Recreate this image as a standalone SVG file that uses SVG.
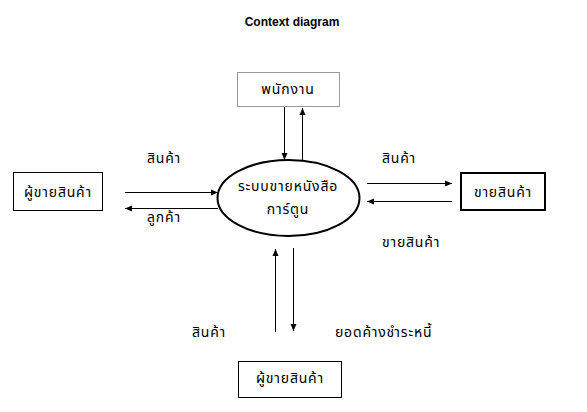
<svg xmlns="http://www.w3.org/2000/svg" width="587" height="412" viewBox="0 0 587 412">
<defs>
<style>
.t{font-family:"Noto Sans Thai","Noto Sans","DejaVu Sans",sans-serif;font-size:14px;letter-spacing:0.8px;fill:#000;text-anchor:middle}
.s{text-anchor:start}
.ttl{font-family:"Liberation Sans",Arial,sans-serif;font-size:12px;font-weight:bold;text-anchor:middle}
.ln{stroke:#000;stroke-width:1;fill:none;marker-end:url(#ah)}
</style>
<marker id="ah" viewBox="0 0 8 8" refX="7" refY="4" markerWidth="8" markerHeight="8" markerUnits="userSpaceOnUse" orient="auto">
<path d="M0,1 L7,4 L0,7 Z" fill="#000"/>
</marker>
</defs>
<rect width="587" height="412" fill="#fff"/>
<text class="ttl" x="292" y="26">Context diagram</text>
<g id="employee">
<rect x="237.5" y="72.5" width="102" height="34" fill="#fff" stroke="#999"/>
<text class="t" x="288" y="94">พนักงาน</text>
</g>
<g id="system">
<ellipse cx="288.5" cy="198" rx="71" ry="38" fill="#fff" stroke="#000" stroke-width="2"/>
<text class="t" x="288" y="191">ระบบขายหนังสือ</text>
<text class="t" x="288" y="214">การ์ตูน</text>
</g>
<g id="supplier-left">
<rect x="13.5" y="172.5" width="89" height="38" fill="#fff" stroke="#000"/>
<text class="t" x="58" y="197">ผู้ขายสินค้า</text>
</g>
<g id="seller-right">
<rect x="461" y="173" width="84" height="37" fill="#fff" stroke="#000" stroke-width="2"/>
<text class="t" x="503" y="197">ขายสินค้า</text>
</g>
<g id="supplier-bottom">
<rect x="238.5" y="361.5" width="103" height="36" fill="#fff" stroke="#000"/>
<text class="t" x="290" y="383">ผู้ขายสินค้า</text>
</g>
<g id="connectors">
<line class="ln" x1="284.5" y1="107" x2="284.5" y2="160"/>
<line class="ln" x1="302.5" y1="160" x2="302.5" y2="108"/>
<line class="ln" x1="125" y1="192.5" x2="218" y2="192.5"/>
<line class="ln" x1="218" y1="208.5" x2="125" y2="208.5"/>
<line class="ln" x1="367" y1="183.5" x2="452" y2="183.5"/>
<line class="ln" x1="452" y1="201.5" x2="367" y2="201.5"/>
<line class="ln" x1="275.5" y1="332" x2="275.5" y2="249"/>
<line class="ln" x1="293.5" y1="248" x2="293.5" y2="331"/>
</g>
<g id="labels">
<text class="t s" x="147" y="163">สินค้า</text>
<text class="t s" x="147" y="222">ลูกค้า</text>
<text class="t s" x="382" y="163">สินค้า</text>
<text class="t s" x="382" y="247">ขายสินค้า</text>
<text class="t s" x="192" y="337">สินค้า</text>
<text class="t s" x="335" y="337">ยอดค้างชำระหนี้</text>
</g>
</svg>
